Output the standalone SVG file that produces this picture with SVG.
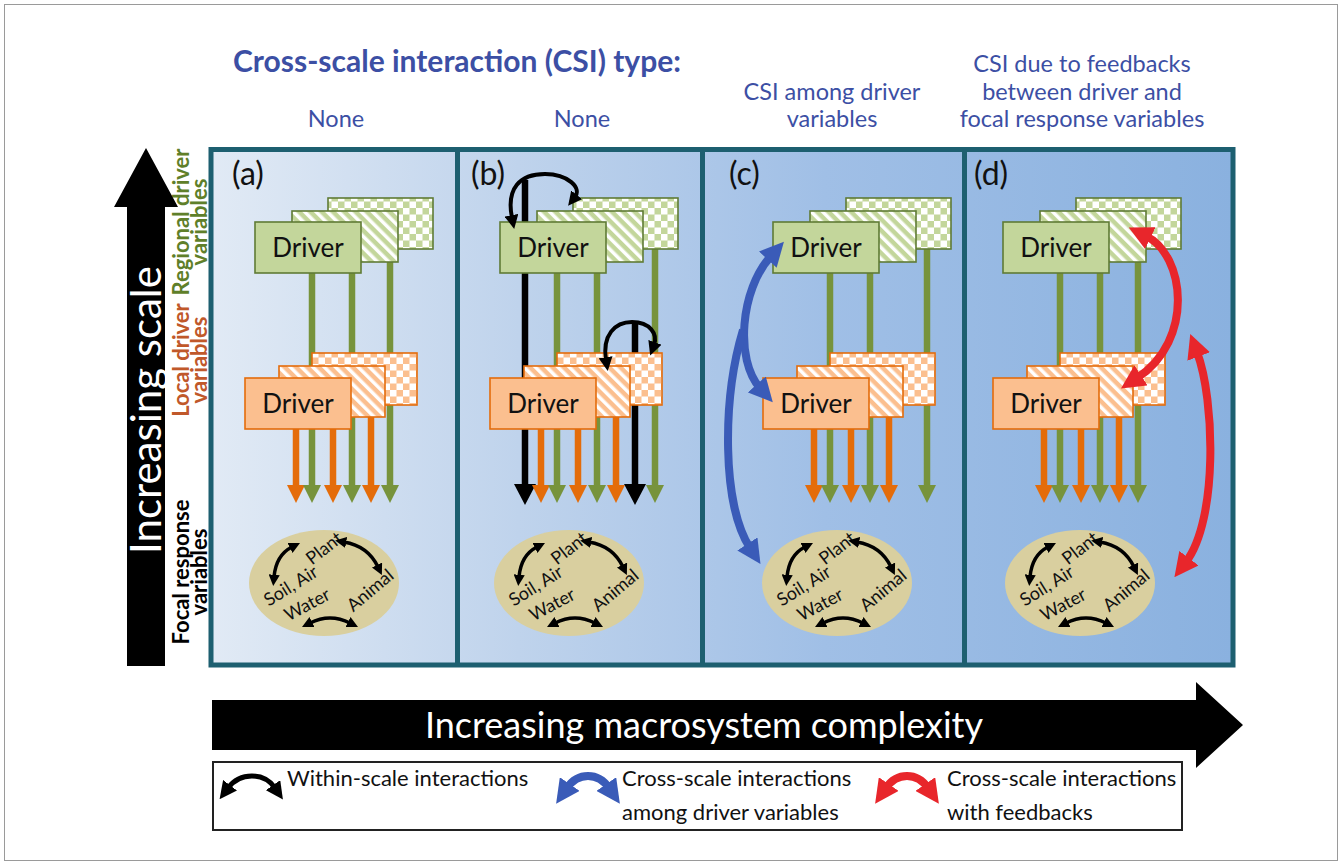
<svg xmlns="http://www.w3.org/2000/svg" xmlns:xlink="http://www.w3.org/1999/xlink" width="1342" height="865" viewBox="0 0 1342 865">
  <style>
    text { font-family: Lato, "Open Sans", "Liberation Sans", sans-serif; }
    .title { font-size: 30px; font-weight: bold; fill: #3c4fa4; }
    .hdr { font-size: 23.5px; fill: #3c4fa4; text-anchor: middle; }
    .plab { font-size: 32px; fill: #111; }
    .drv { font-size: 26px; fill: #111; text-anchor: middle; }
    .side { font-size: 22px; font-weight: bold; text-anchor: middle; }
    .big { font-size: 36px; fill: #fff; text-anchor: middle; }
    .bigv { font-size: 42px; fill: #fff; text-anchor: middle; }
    .leg { font-size: 22px; fill: #111; }
    .foc { font-size: 18px; fill: #111; text-anchor: middle; }
    .gbox { stroke: #5f7b35; stroke-width: 1.6; }
    .obox { stroke: #e46c0a; stroke-width: 1.6; }
    .gl { stroke: #77933c; stroke-width: 6.5; fill: none; }
    .ol { stroke: #e46c0a; stroke-width: 6.5; fill: none; }
    .bl { stroke: #000; stroke-width: 6.5; fill: none; }
    .gh { fill: #77933c; }
    .oh { fill: #e46c0a; }
    .bh { fill: #000; }
    .arcK { stroke: #000; stroke-width: 4; fill: none; marker-start: url(#hK); marker-end: url(#hK); }
    .arcB { stroke: #3a5bb8; stroke-width: 8; fill: none; }
    .arcR { stroke: #e8262b; stroke-width: 8; fill: none; }
    .fk { stroke: #000; stroke-width: 3.5; fill: none; marker-start: url(#hF); marker-end: url(#hF); }
  </style>
  <defs>
    <linearGradient id="bg" x1="213" y1="0" x2="1233" y2="0" gradientUnits="userSpaceOnUse">
      <stop offset="0" stop-color="#e1eaf5"/>
      <stop offset="0.3" stop-color="#bfd3ec"/>
      <stop offset="0.6" stop-color="#a0bfe6"/>
      <stop offset="1" stop-color="#8ab1df"/>
    </linearGradient>
    <pattern id="gStripe" width="8" height="8" patternUnits="userSpaceOnUse" patternTransform="rotate(-45)">
      <rect width="8" height="8" fill="#c3d69b"/>
      <rect width="3.5" height="8" fill="#fff"/>
    </pattern>
    <pattern id="gCheck" width="13" height="13" patternUnits="userSpaceOnUse">
      <rect width="13" height="13" fill="#c3d69b"/>
      <rect width="6.5" height="6.5" fill="#fff"/>
      <rect x="6.5" y="6.5" width="6.5" height="6.5" fill="#fff"/>
    </pattern>
    <pattern id="oStripe" width="8" height="8" patternUnits="userSpaceOnUse" patternTransform="rotate(-45)">
      <rect width="8" height="8" fill="#fbbf8f"/>
      <rect width="3.5" height="8" fill="#fff"/>
    </pattern>
    <pattern id="oCheck" width="13" height="13" patternUnits="userSpaceOnUse">
      <rect width="13" height="13" fill="#fbbf8f"/>
      <rect width="6.5" height="6.5" fill="#fff"/>
      <rect x="6.5" y="6.5" width="6.5" height="6.5" fill="#fff"/>
    </pattern>
    <marker id="hK" viewBox="0 0 10 10" refX="2" refY="5" markerWidth="3.5" markerHeight="3.5" orient="auto-start-reverse">
      <path d="M0,0 L10,5 L0,10 z" fill="#000"/>
    </marker>
    <marker id="hF" viewBox="0 0 10 10" refX="2" refY="5" markerWidth="3.2" markerHeight="3.2" orient="auto-start-reverse">
      <path d="M0,0 L10,5 L0,10 z" fill="#000"/>
    </marker>
    <marker id="hB" viewBox="0 0 10 10" refX="2" refY="5" markerWidth="3" markerHeight="3" orient="auto-start-reverse">
      <path d="M0,0 L10,5 L0,10 z" fill="#3a5bb8"/>
    </marker>
    <marker id="hR" viewBox="0 0 10 10" refX="2" refY="5" markerWidth="3" markerHeight="3" orient="auto-start-reverse">
      <path d="M0,0 L10,5 L0,10 z" fill="#e8262b"/>
    </marker>

    <!-- regional driver stack -->
    <g id="stackG">
      <rect class="gbox" x="328" y="198" width="105" height="51" fill="url(#gCheck)"/>
      <rect class="gbox" x="292" y="211" width="106" height="51" fill="url(#gStripe)"/>
      <rect class="gbox" x="255" y="222" width="106" height="51" fill="#c3d69b"/>
      <text class="drv" x="308" y="257">Driver</text>
    </g>
    <!-- local driver stack -->
    <g id="stackO">
      <rect class="obox" x="312" y="353" width="105" height="52" fill="url(#oCheck)"/>
      <rect class="obox" x="279" y="366" width="106" height="51" fill="url(#oStripe)"/>
      <rect class="obox" x="245" y="378" width="106" height="51" fill="#fbbf8f"/>
      <text class="drv" x="298" y="413">Driver</text>
    </g>
    <!-- focal response ellipse, centred on 0,0 -->
    <g id="focal">
      <ellipse rx="75" ry="53" fill="#d9cf9f"/>
      <text class="foc" transform="translate(4,-30) rotate(-38)">Plant</text>
      <path class="fk" d="M -50,-6 Q -48,-28 -32,-36"/>
      <path class="fk" d="M 20,-41 Q 44,-37 54,-16"/>
      <text class="foc" transform="translate(-30,8) rotate(-32)">Soil, Air</text>
      <text class="foc" transform="translate(-14,27) rotate(-28)">Water</text>
      <text class="foc" transform="translate(50,12) rotate(-40)">Animal</text>
      <path class="fk" d="M -14,40 Q 6,30 26,40"/>
    </g>
  </defs>

  <rect x="0" y="0" width="1342" height="865" fill="#fff"/>
  <rect x="4.5" y="4.5" width="1333" height="856" fill="none" stroke="#9a9a9a" stroke-width="1"/>

  <!-- headings -->
  <g id="headings">
    <text class="title" x="233" y="72">Cross-scale interaction (CSI) type:</text>
    <text class="hdr" x="336" y="127">None</text>
    <text class="hdr" x="582" y="127">None</text>
    <text class="hdr" x="832" y="100">CSI among driver</text>
    <text class="hdr" x="832" y="127">variables</text>
    <text class="hdr" x="1082" y="72">CSI due to feedbacks</text>
    <text class="hdr" x="1082" y="100">between driver and</text>
    <text class="hdr" x="1082" y="127">focal response variables</text>
  </g>

  <!-- panel frame -->
  <g id="frame">
    <rect x="211" y="149.5" width="1022" height="515.5" fill="url(#bg)" stroke="#1d5f70" stroke-width="5"/>
    <line x1="457.5" y1="149.5" x2="457.5" y2="665" stroke="#1d5f70" stroke-width="5"/>
    <line x1="702.5" y1="149.5" x2="702.5" y2="665" stroke="#1d5f70" stroke-width="5"/>
    <line x1="964.5" y1="149.5" x2="964.5" y2="665" stroke="#1d5f70" stroke-width="5"/>
  </g>

  <!-- panel (a) -->
  <g id="panel-a">
    <text class="plab" x="232" y="185">(a)</text>
    <g id="a-links">
      <path class="gl" d="M312,273V486 M352,273V486 M390,262V486"/>
    </g>
    <g id="a-regional"><use xlink:href="#stackG"/></g>
    <g id="a-local"><use xlink:href="#stackO"/></g>
    <g id="a-links2">
      <path class="ol" d="M296,429V486 M333,429V486 M371,417V486"/>
      <path class="oh" d="M287,485h18l-9,18z M324,485h18l-9,18z M362,485h18l-9,18z"/>
      <path class="gh" d="M303,485h18l-9,18z M343,485h18l-9,18z M381,485h18l-9,18z"/>
    </g>
    <g id="a-focal"><use xlink:href="#focal" transform="translate(324,583)"/></g>
  </g>

  <!-- panel (b) -->
  <g id="panel-b">
    <text class="plab" x="471" y="185">(b)</text>
    <g transform="translate(245,0)">
      <g id="b-links">
        <path class="bl" d="M280,180V486 M390,322V486"/>
        <path class="gl" d="M312,273V486 M352,273V486 M410,249V486"/>
      </g>
      <g id="b-regional"><use xlink:href="#stackG"/></g>
      <g id="b-local"><use xlink:href="#stackO"/></g>
      <g id="b-links2">
        <path class="ol" d="M296,429V486 M333,429V486 M371,417V486"/>
        <path class="bh" d="M269,484h22l-11,21z M379,484h22l-11,21z"/>
        <path class="oh" d="M287,485h18l-9,18z M324,485h18l-9,18z M362,485h18l-9,18z"/>
        <path class="gh" d="M303,485h18l-9,18z M343,485h18l-9,18z M401,485h18l-9,18z"/>
      </g>
    </g>
    <g id="b-within">
      <path class="arcK" d="M512,218 C506,188 520,174 545,174 C568,174 582,188 575,197"/>
      <path class="arcK" d="M606,360 C602,335 615,322 632,322 C650,322 658,334 654,345"/>
    </g>
    <g id="b-focal"><use xlink:href="#focal" transform="translate(569,583)"/></g>
  </g>

  <!-- panel (c) -->
  <g id="panel-c">
    <text class="plab" x="729" y="185">(c)</text>
    <g transform="translate(518,0)">
      <g id="c-links">
        <path class="gl" d="M312,273V486 M352,273V486 M409,249V486"/>
      </g>
      <g id="c-regional"><use xlink:href="#stackG"/></g>
      <g id="c-local"><use xlink:href="#stackO"/></g>
      <g id="c-links2">
        <path class="ol" d="M296,429V486 M333,429V486 M371,417V486"/>
        <path class="oh" d="M287,485h18l-9,18z M324,485h18l-9,18z M362,485h18l-9,18z"/>
        <path class="gh" d="M303,485h18l-9,18z M343,485h18l-9,18z M400,485h18l-9,18z"/>
      </g>
    </g>
    <g id="c-focal"><use xlink:href="#focal" transform="translate(837,583)"/></g>
    <g id="c-cross">
      <path class="arcB" d="M771,256 C740,290 735,360 760,388" marker-start="url(#hB)" marker-end="url(#hB)"/>
      <path class="arcB" d="M743,330 C722,400 722,505 750,548" marker-end="url(#hB)"/>
    </g>
  </g>

  <!-- panel (d) -->
  <g id="panel-d">
    <text class="plab" x="974" y="185">(d)</text>
    <g transform="translate(748,0)">
      <g id="d-links">
        <path class="gl" d="M312,273V486 M352,273V486 M390,262V486"/>
      </g>
      <g id="d-regional"><use xlink:href="#stackG"/></g>
      <g id="d-local"><use xlink:href="#stackO"/></g>
      <g id="d-links2">
        <path class="ol" d="M296,429V486 M333,429V486 M371,417V486"/>
        <path class="oh" d="M287,485h18l-9,18z M324,485h18l-9,18z M362,485h18l-9,18z"/>
        <path class="gh" d="M303,485h18l-9,18z M343,485h18l-9,18z M381,485h18l-9,18z"/>
      </g>
    </g>
    <g id="d-focal"><use xlink:href="#focal" transform="translate(1080,583)"/></g>
    <g id="d-feedback">
      <path class="arcR" d="M1146,236 C1185,255 1195,340 1137,378" marker-start="url(#hR)" marker-end="url(#hR)"/>
      <path class="arcR" d="M1197,352 C1215,400 1218,520 1186,562" marker-start="url(#hR)" marker-end="url(#hR)"/>
    </g>
  </g>

  <!-- scale labels -->
  <g id="scale-labels">
    <text class="side" fill="#5f7f2a" transform="translate(189,222) rotate(-90)">Regional driver</text>
    <text class="side" fill="#5f7f2a" transform="translate(207,222) rotate(-90)">variables</text>
    <text class="side" fill="#c0582a" transform="translate(189,360) rotate(-90)">Local driver</text>
    <text class="side" fill="#c0582a" transform="translate(207,360) rotate(-90)">variables</text>
    <text class="side" fill="#000" transform="translate(189,572) rotate(-90)">Focal response</text>
    <text class="side" fill="#000" transform="translate(207,572) rotate(-90)">variables</text>
  </g>

  <!-- axis arrows -->
  <g id="axis-scale">
    <path d="M127,666 V207 H114 L146,148 L178,207 H165 V666 Z" fill="#000"/>
    <text class="bigv" transform="translate(161,410) rotate(-90)">Increasing scale</text>
  </g>
  <g id="axis-complexity">
    <path d="M212,700 H1196 V682 L1243,725 L1196,768 V750 H212 Z" fill="#000"/>
    <text class="big" x="704" y="738">Increasing macrosystem complexity</text>
  </g>

  <!-- legend -->
  <g id="legend">
    <rect x="213" y="762" width="969" height="68" fill="#fff" stroke="#222" stroke-width="2"/>
    <path class="arcK" d="M228,788 C240,772 264,772 275,788" style="stroke-width:5"/>
    <text class="leg" x="287" y="786">Within-scale interactions</text>
    <path class="arcB" d="M567,788 C578,772 598,772 609,788" marker-start="url(#hB)" marker-end="url(#hB)"/>
    <text class="leg" x="622" y="786">Cross-scale interactions</text>
    <text class="leg" x="622" y="820">among driver variables</text>
    <path class="arcR" d="M886,788 C897,772 917,772 928,788" marker-start="url(#hR)" marker-end="url(#hR)"/>
    <text class="leg" x="947" y="786">Cross-scale interactions</text>
    <text class="leg" x="947" y="820">with feedbacks</text>
  </g>
</svg>
